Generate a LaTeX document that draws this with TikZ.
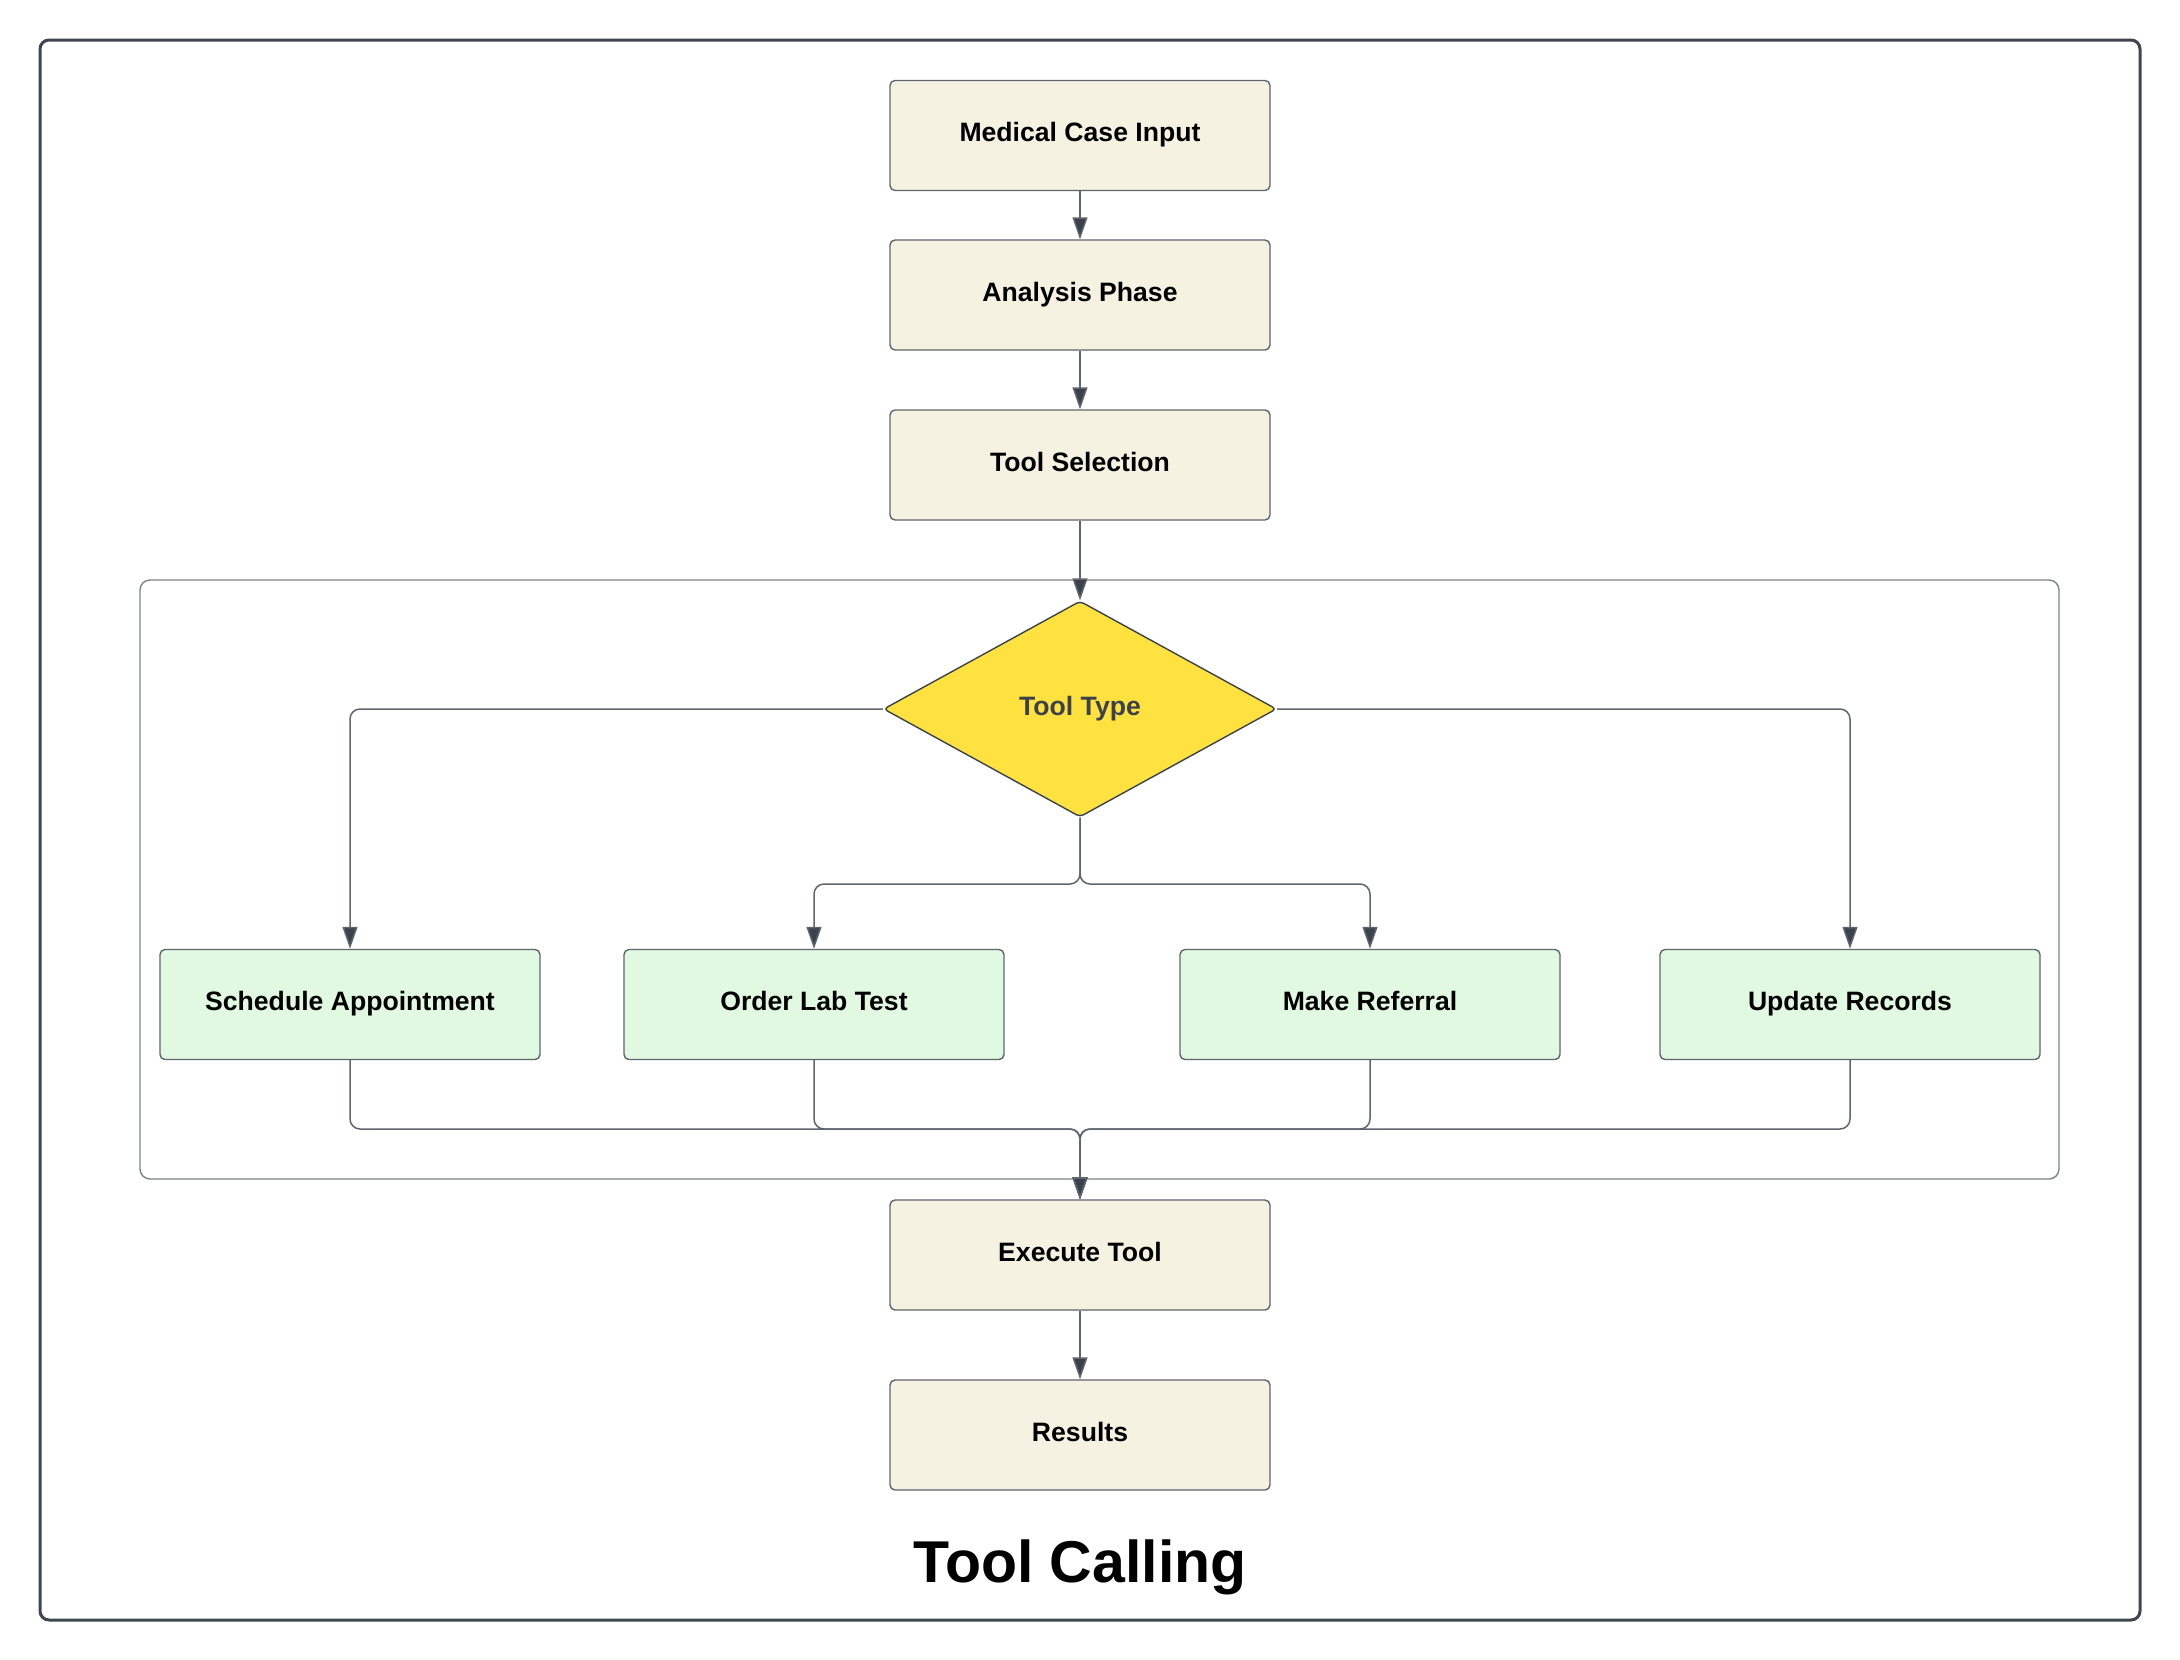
\documentclass[tikz,border=0pt]{standalone}
\usepackage{fontspec}
\setmainfont{Liberation Sans}
\usetikzlibrary{shapes.geometric,arrows.meta}
\definecolor{beigefill}{HTML}{F5F2E2}
\definecolor{greenfill}{HTML}{E1F8E1}
\definecolor{yellowfill}{HTML}{FFE240}
\definecolor{edgegray}{HTML}{5F656E}
\definecolor{darkslate}{HTML}{3B424B}
\definecolor{framegray}{HTML}{3F4650}
\definecolor{contgray}{HTML}{7C828A}
\tikzset{
  boxbase/.style={draw=edgegray, line width=1.4pt, rounded corners=5pt,
    minimum width=380pt, minimum height=110pt, inner sep=0pt,
    text height=19pt, text depth=7pt,
    font=\fontsize{26.6}{30}\selectfont\bfseries, text=black},
  beigebox/.style={boxbase, fill=beigefill},
  greenbox/.style={boxbase, fill=greenfill},
  decision/.style={diamond, draw=darkslate, line width=1.4pt, fill=yellowfill,
    minimum width=393pt, minimum height=216pt, inner sep=0pt, rounded corners=4pt,
    text height=19pt, text depth=7pt,
    font=\fontsize{26.6}{30}\selectfont\bfseries, text=darkslate},
  conn/.style={draw=edgegray, line width=1.5pt, rounded corners=10pt,
    -{Triangle[length=22pt,width=15pt,fill=darkslate]}},
  titletext/.style={font=\fontsize{59}{66}\selectfont\bfseries, text=black, anchor=base}
}
\begin{document}
\begin{tikzpicture}[x=1pt,y=-1pt]
\useasboundingbox (0,0) rectangle (2180,1660);
% outer frame
\draw[framegray, line width=3pt, rounded corners=9pt] (40,40) rectangle (2140,1620);
% inner container
\draw[contgray, line width=1.4pt, rounded corners=10pt] (140,580) rectangle (2059,1179);

% nodes
\node[beigebox] (mci) at (1080,135.5) {Medical Case Input};
\node[beigebox] (ap)  at (1080,295) {Analysis Phase};
\node[beigebox] (ts)  at (1080,465) {Tool Selection};
\node[decision] (tt)  at (1080,709) {Tool Type};
\node[greenbox] (sa)  at (350,1004.5) {Schedule Appointment};
\node[greenbox] (olt) at (814,1004.5) {Order Lab Test};
\node[greenbox] (mr)  at (1370,1004.5) {Make Referral};
\node[greenbox] (ur)  at (1850,1004.5) {Update Records};
\node[beigebox] (et)  at (1080,1255) {Execute Tool};
\node[beigebox] (res) at (1080,1435) {Results};
\node[titletext] (title) at (1080,1582) {Tool Calling};

\coordinate (split) at (1080,884);
\coordinate (merge) at (1080,1129);

% connectors
\draw[conn] (mci.south) -- (ap.north);
\draw[conn] (ap.south) -- (ts.north);
\draw[conn] (ts.south) -- (tt.north);
\draw[conn] (tt.west) -| (sa.north);
\draw[conn] (tt.east) -| (ur.north);
\draw[conn] (tt.south) -- (split) -| (olt.north);
\draw[conn] (tt.south) -- (split) -| (mr.north);
\draw[conn] (sa.south) |- (merge) -- (et.north);
\draw[conn] (olt.south) |- (merge) -- (et.north);
\draw[conn] (mr.south) |- (merge) -- (et.north);
\draw[conn] (ur.south) |- (merge) -- (et.north);
\draw[conn] (et.south) -- (res.north);
\end{tikzpicture}
\end{document}
